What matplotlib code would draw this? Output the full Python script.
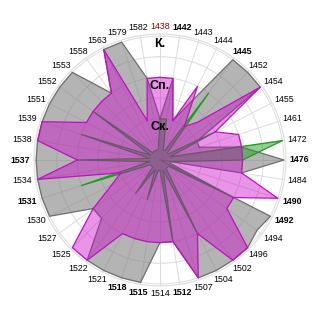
import numpy as np
import matplotlib.pyplot as plt

years = ['1438', '1442', '1443', '1444', '1445', '1452', '1454', '1455', '1461', '1472',
         '1476', '1484', '1490', '1492', '1494', '1496', '1502', '1504', '1507', '1512',
         '1514', '1515', '1518', '1521', '1522', '1525', '1527', '1530', '1531', '1534',
         '1537', '1538', '1539', '1551', '1552', '1553', '1558', '1563', '1579', '1582']
bold_years = ['1442', '1445', '1476', '1490', '1492', '1512', '1515', '1518', '1531', '1537']
red_years = ['1438']
levels = ['Ск.', 'Сп.', 'К.']

gray_vals = [1, 2, 1, 1.5, 3, 3, 3, 1, 1, 2,
             3, 2, 0, 3, 2.9, 3, 3, 3, 3, 2,
             2, 3, 3, 3, 3, 2, 2, 3, 3, 3,
             3, 3, 3, 3, 3, 3, 2, 3, 3, 2]
green_vals = [1, 1, 0.25, 0.25, 2, 0.25, 0.25, 1.5, 0.25, 3,
              2, 0.25, 0.25, 2, 0.25, 0.25, 0.25, 2, 0.25, 2,
              0.25, 0.25, 1, 0.25, 1, 0.25, 0.25, 0.25, 2, 0.25,
              2, 0.25, 2, 0.25, 2, 0.25, 0.25, 0.25, 0.25, 0.25]
violet_vals = [2, 2, 1, 2, 1, 1.3, 3, 1.5, 2, 2,
               2, 2, 3, 2, 2, 3, 3, 2, 3, 2,
               2, 2, 2, 2, 3, 3, 2, 1.3, 1, 3,
               2, 3, 3, 2, 2, 2, 2, 3, 1, 2]

n = len(years)
theta = np.arange(n) * 2 * np.pi / n
tc = np.append(theta, theta[0])


def closed(v):
    return np.append(v, v[0])


fig = plt.figure(figsize=(3.2, 3.2), dpi=100)
ax = fig.add_axes([34 / 320, 34 / 320, 252 / 320, 252 / 320], projection='polar')
ax.set_theta_zero_location('N')
ax.set_theta_direction(-1)
ax.set_ylim(0, 3.05)
ax.set_axisbelow(True)

# grid
ax.set_xticks(theta)
ax.set_xticklabels([])
ax.set_yticks(np.arange(0.5, 3.01, 0.5))
ax.set_yticklabels([])
ax.grid(True, color='#dcdcdc', lw=0.7)
ax.spines['polar'].set_color('#dcdcdc')
ax.spines['polar'].set_linewidth(0.8)
ax.tick_params(length=0)

# series, bottom to top: gray, green, violet
ax.fill(tc, closed(gray_vals), color='#7f7f7f', alpha=0.58, lw=0, zorder=1)
ax.plot(tc, closed(gray_vals), color='#6e6e6e', lw=0.9, zorder=1.1)
ax.fill(tc, closed(green_vals), color='#22a022', alpha=0.5, lw=0, zorder=1.2)
ax.plot(tc, closed(green_vals), color='#229922', lw=0.9, zorder=1.3)
ax.fill(tc, closed(violet_vals), color='#cc00cc', alpha=0.42, lw=0, zorder=1.4)
ax.plot(tc, closed(violet_vals), color='#c010c0', lw=0.9, zorder=1.5)

# category labels
for t, y in zip(theta, years):
    fw = 'bold' if y in bold_years else 'normal'
    col = '#8b0000' if y in red_years else 'black'
    dx = 10 * np.sin(t) * 0.72
    dy = 4.5 * np.cos(t) * 0.72
    ax.annotate(y, (t, 3.13), xytext=(dx, dy), textcoords='offset points',
                ha='center', va='center', fontsize=6.3, fontweight=fw, color=col,
                family='Liberation Sans', annotation_clip=False)

# level labels
for i, lab in enumerate(levels):
    ax.text(0, i + 1 - 0.2, lab, ha='center', va='center', fontsize=9,
            fontweight='bold', family='Liberation Sans', zorder=5)

fig.savefig('out.png', dpi=100)
